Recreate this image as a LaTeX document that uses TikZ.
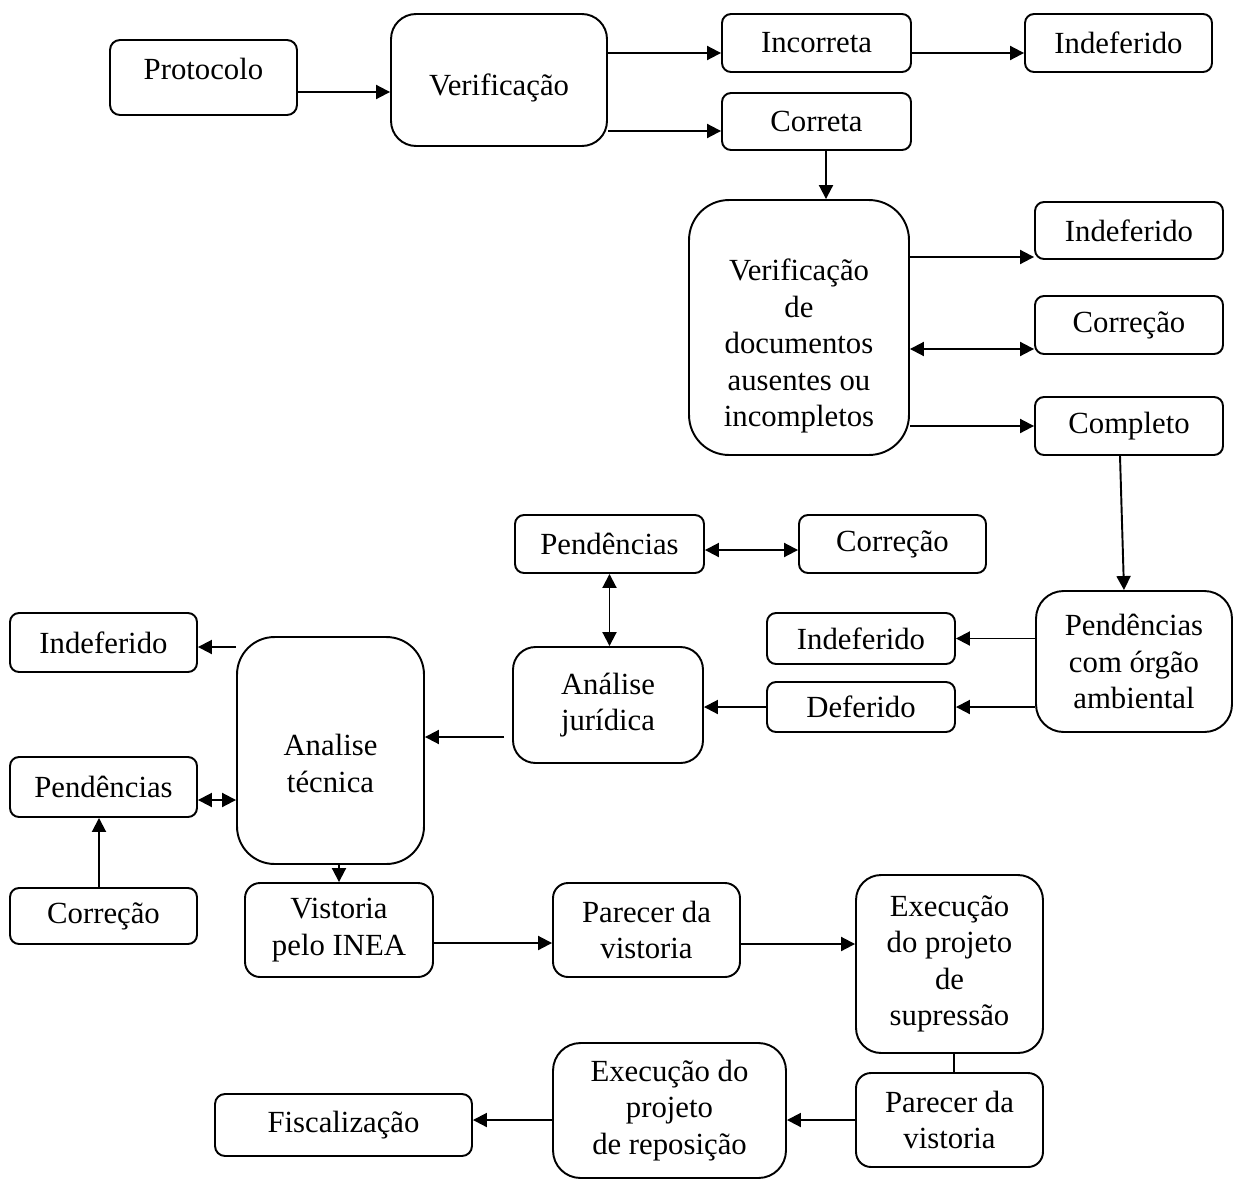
\documentclass[tikz,border=0pt]{standalone}
\usepackage{fontspec}
\setmainfont{Liberation Serif}
\usetikzlibrary{arrows.meta}

\begin{document}
\begin{tikzpicture}[x=0.02cm,y=-0.02cm,
  box/.style={draw,line width=1.1pt,rounded corners=0.18cm,inner sep=0pt,align=center,font=\fontsize{17.5}{20.8}\selectfont},
  arr/.style={line width=1.1pt,-{Triangle[length=0.28cm,width=0.28cm]}},
  darr/.style={line width=1.1pt,{Triangle[length=0.28cm,width=0.28cm]}-{Triangle[length=0.28cm,width=0.28cm]}}]
\useasboundingbox (0,0) rectangle (1234,1180);
\node[box,minimum width=3.74cm,minimum height=1.5cm,rounded corners=0.2cm] (prot) at (203.5,77.5) {\rule[-0.34cm]{0pt}{0.34cm}Protocolo};
\node[box,minimum width=4.32cm,minimum height=2.64cm,rounded corners=0.5cm] (verif) at (499,80) {\rule{0pt}{0.74cm}Verificação};
\node[box,minimum width=3.78cm,minimum height=1.16cm] (incor) at (816.5,43) {Incorreta};
\node[box,minimum width=3.74cm,minimum height=1.16cm] (indef1) at (1118.5,43) {Indeferido};
\node[box,minimum width=3.78cm,minimum height=1.14cm] (correta) at (816.5,121.5) {Correta};
\node[box,minimum width=4.4cm,minimum height=5.1cm,rounded corners=0.8cm] (verdoc) at (799,327.5) {\rule{0pt}{1.18cm}Verificação\\de\\documentos\\ausentes ou\\incompletos};
\node[box,minimum width=3.76cm,minimum height=1.14cm] (indef2) at (1129,230.5) {Indeferido};
\node[box,minimum width=3.76cm,minimum height=1.16cm] (corr1) at (1129,325) {Correção};
\node[box,minimum width=3.76cm,minimum height=1.16cm] (compl) at (1129,426) {Completo};
\node[box,minimum width=3.78cm,minimum height=1.16cm] (pend1) at (609.5,544) {Pendências};
\node[box,minimum width=3.74cm,minimum height=1.16cm] (corr2) at (892.5,544) {Correção};
\node[box,minimum width=3.92cm,minimum height=2.82cm,rounded corners=0.55cm] (pendcom) at (1134,661.5) {Pendências\\com órgão\\ambiental};
\node[box,minimum width=3.76cm,minimum height=1.02cm] (indef3) at (861,638.5) {Indeferido};
\node[box,minimum width=3.76cm,minimum height=1cm] (defer) at (861,707) {Deferido};
\node[box,minimum width=3.8cm,minimum height=2.32cm,rounded corners=0.45cm] (anjur) at (608,705) {Análise\\jurídica};
\node[box,minimum width=3.74cm,minimum height=1.18cm] (indef4) at (103.5,642.5) {Indeferido};
\node[box,minimum width=3.74cm,minimum height=4.54cm,rounded corners=0.75cm] (antec) at (330.5,750.5) {\rule{0pt}{0.94cm}Analise\\técnica};
\node[box,minimum width=3.74cm,minimum height=1.2cm] (pend2) at (103.5,787) {Pendências};
\node[box,minimum width=3.74cm,minimum height=1.12cm] (corr3) at (103.5,916) {Correção};
\node[box,minimum width=3.76cm,minimum height=1.88cm,rounded corners=0.3cm] (vist) at (339,930) {Vistoria\\pelo INEA};
\node[box,minimum width=3.74cm,minimum height=1.88cm,rounded corners=0.3cm] (parec1) at (646.5,930) {Parecer da\\vistoria};
\node[box,minimum width=3.74cm,minimum height=3.56cm,rounded corners=0.5cm] (execsup) at (949.5,964) {Execução\\do projeto\\de\\supressão};
\node[box,minimum width=3.74cm,minimum height=1.88cm,rounded corners=0.3cm] (parec2) at (949.5,1120) {Parecer da\\vistoria};
\node[box,minimum width=4.66cm,minimum height=2.7cm,rounded corners=0.55cm] (execrep) at (669.5,1110.5) {Execução do\\projeto\\de reposição};
\node[box,minimum width=5.14cm,minimum height=1.24cm,rounded corners=0.2cm] (fisc) at (343.5,1125) {Fiscalização};
\draw[arr] ([yshift=-0.29cm]prot.east) -- ([yshift=-0.29cm]prot.east -| verif.west);
\draw[arr] ([yshift=-0.2cm]incor.west -| verif.east) -- ([yshift=-0.2cm]incor.west);
\draw[arr] ([yshift=-0.19cm]correta.west -| verif.east) -- ([yshift=-0.19cm]correta.west);
\draw[arr] ([yshift=-0.2cm]incor.east) -- ([yshift=-0.2cm]indef1.west);
\draw[arr] ([xshift=0.19cm]correta.south) -- ([xshift=0.19cm]correta.south |- verdoc.north);
\draw[arr] ([yshift=-0.53cm]indef2.west -| verdoc.east) -- ([yshift=-0.53cm]indef2.west);
\draw[darr] ([yshift=-0.48cm]corr1.west -| verdoc.east) -- ([yshift=-0.48cm]corr1.west);
\draw[arr] (compl.west -| verdoc.east) -- (compl.west);
\draw[arr] ([xshift=-0.18cm]compl.south) -- ([xshift=-0.2cm]pendcom.north);
\draw[darr] ([yshift=-0.12cm]pend1.east) -- ([yshift=-0.12cm]corr2.west);
\draw[darr] (pend1.south) -- (pend1.south |- anjur.north);
\draw[arr] (indef3.east -| pendcom.west) -- (indef3.east);
\draw[arr] (defer.east -| pendcom.west) -- (defer.east);
\draw[arr] (defer.west) -- (defer.west -| anjur.east);
\draw[arr] ([xshift=-0.16cm,yshift=-0.64cm]anjur.west) -- ([yshift=-0.64cm]anjur.west -| antec.east);
\draw[arr] ([yshift=-0.09cm]indef4.east -| antec.west) -- ([yshift=-0.09cm]indef4.east);
\draw[darr] ([yshift=-0.26cm]pend2.east) -- ([yshift=-0.26cm]pend2.east -| antec.west);
\draw[arr] ([xshift=-0.09cm]corr3.north) -- ([xshift=-0.09cm]pend2.south);
\draw[arr] (vist.north |- antec.south) -- (vist.north);
\draw[arr] ([yshift=-0.26cm]vist.east) -- ([yshift=-0.26cm]vist.east -| parec1.west);
\draw[arr] ([yshift=-0.28cm]parec1.east) -- ([yshift=-0.28cm]parec1.east -| execsup.west);
\draw[line width=1.1pt] ([xshift=0.09cm]execsup.south) -- ([xshift=0.09cm]parec2.north);
\draw[arr] (parec2.west) -- (parec2.west -| execrep.east);
\draw[arr] (parec2.west -| execrep.west) -- (parec2.west -| fisc.east);
\end{tikzpicture}
\end{document}
